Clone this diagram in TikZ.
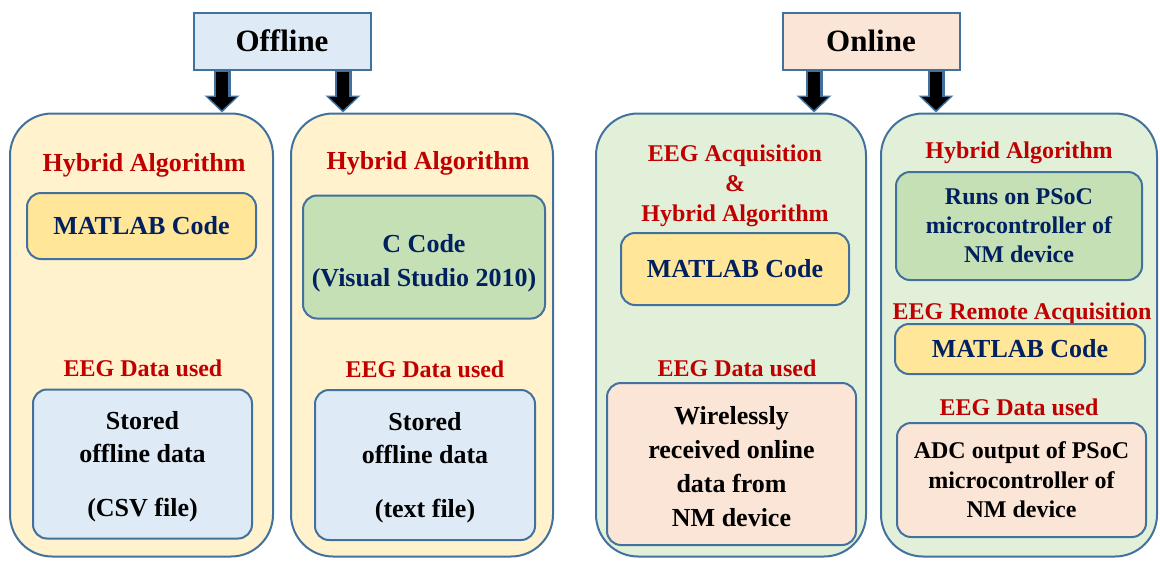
\documentclass[tikz,border=0pt]{standalone}
\usepackage{fontspec}
\setmainfont{Liberation Serif}
\usepackage{xcolor}
\usetikzlibrary{arrows.meta}

\definecolor{edge}{HTML}{41719C}
\definecolor{cream}{HTML}{FFF2CC}
\definecolor{mint}{HTML}{E2F0D9}
\definecolor{gold}{HTML}{FFE699}
\definecolor{leaf}{HTML}{C5E0B4}
\definecolor{sky}{HTML}{DEEBF7}
\definecolor{peach}{HTML}{FBE5D6}
\definecolor{hot}{HTML}{C00000}
\definecolor{navy}{HTML}{002060}

\newcommand{\fs}[2]{\fontsize{#1}{#2}\selectfont\bfseries}

\begin{document}
\begin{tikzpicture}[%
        x=1pt, y=-1pt,
        title/.style={ draw=edge, line width=2pt, minimum width=177pt, minimum height=57pt, font=\fs{31}{37} },%
        column/.style={ draw=edge, line width=2pt, rounded corners=42pt, minimum height=443pt },%
        box/.style={ draw=edge, line width=2pt, rounded corners=14pt, align=center, inner sep=0pt },%
        caption/.style={ text=hot, align=center, font=\fs{24}{30} },%
        barrowout/.style={ draw=edge, line width=17pt, -{Triangle[width=34pt,length=17pt]} },%
        barrowin/.style={ draw=black, line width=12pt, shorten >=2.5pt, -{Triangle[width=27pt,length=13pt]} }%
      ]
      \useasboundingbox (0,0) rectangle (1160,563);
      % top titles
      \node (offline) at (282,41) [title, fill=sky]{Offline};
      \node (online)  at (871,41) [title, fill=peach]{Online};
      % columns
      \node (col1) at (141.5,335) [column, fill=cream, minimum width=263pt]{};
      \node (col2) at (422,335)   [column, fill=cream, minimum width=262pt]{};
      \node (col3) at (731,335)   [column, fill=mint, minimum width=270pt]{};
      \node (col4) at (1019,335)  [column, fill=mint, minimum width=276pt]{};
      % arrows
      \foreach \src/\dst/\xx in {offline/col1/222, offline/col2/343, online/col3/814, online/col4/936}{
        \draw [barrowout] (\src.south -| \xx,0) -- (\dst.north -| \xx,0);
        \draw [barrowin] ([yshift=-1pt]\src.south -| \xx,0) -- (\dst.north -| \xx,0);
      }
      % column 1
      \node (hyb1) at (144,165) [caption, font=\fs{26}{32}]{Hybrid Algorithm};
      \node (mat1) at (141.5,226) [box, fill=gold, minimum width=229pt, minimum height=66pt, text=navy, font=\fs{26}{32}]{MATLAB Code};
      \node (dat1) at (143,368) [caption]{EEG Data used};
      \node (sto1) at (142.5,464) [box, fill=sky, minimum width=219pt, minimum height=149pt, font=\fs{26}{33}]{\rule{0pt}{24pt}Stored\\offline data\\[21pt](CSV file)};
      % column 2
      \node (hyb2) at (428,163) [caption, font=\fs{26}{32}]{Hybrid Algorithm};
      \node (cc2)  at (424,257) [box, fill=leaf, minimum width=242pt, minimum height=123pt, text=navy, font=\fs{26}{34}]{\rule{0pt}{30pt}C Code\\(Visual Studio 2010)};
      \node (dat2) at (425,369) [caption]{EEG Data used};
      \node (sto2) at (425,465) [box, fill=sky, minimum width=220pt, minimum height=150pt, font=\fs{26}{33}]{\rule{0pt}{24pt}Stored\\offline data\\[21pt](text file)};
      % column 3
      \node (acq3) at (735,186) [caption]{EEG Acquisition\\\&\\Hybrid Algorithm};
      \node (mat3) at (735,269) [box, fill=gold, minimum width=228pt, minimum height=72pt, text=navy, font=\fs{26}{32}]{MATLAB Code};
      \node (dat3) at (737,368) [caption]{EEG Data used};
      \node (wir3) at (731.5,464) [box, fill=peach, minimum width=249pt, minimum height=162pt, font=\fs{26}{34}]{\rule{0pt}{24pt}Wirelessly\\received online\\data from\\NM device};
      % column 4
      \node (hyb4) at (1019,153) [caption]{Hybrid Algorithm};
      \node (run4) at (1019,226) [box, fill=leaf, minimum width=246pt, minimum height=108pt, text=navy, font=\fs{24}{29}]{Runs on PSoC\\microcontroller of\\NM device};
      \node (rem4) at (1022,314) [caption]{EEG Remote Acquisition};
      \node (mat4) at (1020,349) [box, fill=gold, minimum width=250pt, minimum height=50pt, text=navy, font=\fs{26}{32}]{MATLAB Code};
      \node (dat4) at (1019,407) [caption]{EEG Data used};
      \node (adc4) at (1021.5,480) [box, fill=peach, minimum width=249pt, minimum height=114pt, font=\fs{24}{29.5}]{ADC output of PSoC\\microcontroller of\\NM device};
    \end{tikzpicture}
\end{document}
